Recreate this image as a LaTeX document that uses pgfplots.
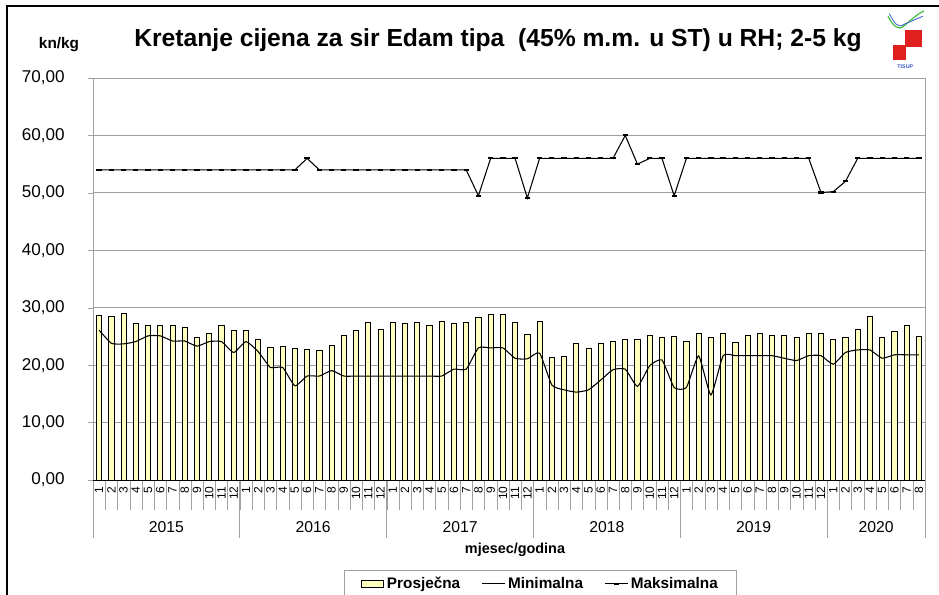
\documentclass[border=0pt]{standalone}
\usepackage{pgfplots}
\pgfplotsset{compat=1.18}
\usepackage{fontspec}
\setmainfont{Liberation Sans}
\definecolor{baryellow}{HTML}{FFFFC0}
\definecolor{gridgray}{HTML}{A0A0A0}
\definecolor{logored}{HTML}{E0201F}
\definecolor{logogreen}{HTML}{3DBE3D}
\definecolor{logoblue}{HTML}{3A5BC8}
\begin{document}
\begin{tikzpicture}
\useasboundingbox (0,0) rectangle (704.25pt,446.25pt);
\draw[line width=1.5pt] (5.25pt,-2pt) -- (5.25pt,441.75pt) -- (706pt,441.75pt);
\begin{axis}[
  at={(69.75pt,86.25pt)}, anchor=south west,
  width=624pt, height=301.5pt, scale only axis,
  xmin=-0.5, xmax=67.5, ymin=0, ymax=70,
  ytick={0,10,...,70},
  /pgf/number format/.cd, fixed, fixed zerofill, precision=2, use comma, assume math mode=true,
  /pgfplots/.cd,
  yticklabel style={font=\fontsize{12.8}{14}\selectfont, xshift=-14pt},
  xtick={0,...,67},
  xticklabels={1,2,3,4,5,6,7,8,9,10,11,12,1,2,3,4,5,6,7,8,9,10,11,12,1,2,3,4,5,6,7,8,9,10,11,12,1,2,3,4,5,6,7,8,9,10,11,12,1,2,3,4,5,6,7,8,9,10,11,12,1,2,3,4,5,6,7,8},
  minor xtick={-0.5,0.5,...,67.5},
  tick align=outside, tick pos=left,
  major tick length=3.75pt, minor tick length=22.5pt,
  major x tick style={draw=none},
  minor x tick style={gridgray},
  y tick style={gridgray},
  xticklabel style={rotate=90, anchor=east, font=\fontsize{9}{9}\selectfont, inner sep=1pt},
  ymajorgrids, grid style={gridgray, line width=0.6pt},
  axis line style={gridgray, line width=0.6pt},
  clip=false,
  legend style={at={(0.538,-0.224)}, anchor=north, legend columns=3, draw=gridgray,
    font=\bfseries\fontsize{11.5}{13}\selectfont, inner xsep=12pt, inner ysep=3pt,
    /tikz/every even column/.append style={column sep=14pt}},
  legend cell align=left,
]
\addplot[ybar, bar width=0.42, bar shift=0, fill=baryellow, draw=black, line width=0.6pt, area legend] coordinates {
(0,28.7)(1,28.45)(2,29.0)(3,27.2)(4,26.9)(5,26.9)(6,26.9)(7,26.65)(8,24.8)(9,25.5)(10,26.9)(11,26.1)
(12,26.1)(13,24.4)(14,23.05)(15,23.2)(16,22.9)(17,22.8)(18,22.65)(19,23.4)(20,25.1)(21,26.1)(22,27.4)(23,26.25)
(24,27.4)(25,27.2)(26,27.4)(27,27.0)(28,27.7)(29,27.3)(30,27.4)(31,28.3)(32,28.75)(33,28.85)(34,27.4)(35,25.4)
(36,27.6)(37,21.4)(38,21.5)(39,23.7)(40,23.0)(41,23.7)(42,24.15)(43,24.55)(44,24.4)(45,25.1)(46,24.9)(47,25.0)
(48,24.15)(49,25.5)(50,24.8)(51,25.55)(52,23.9)(53,25.1)(54,25.45)(55,25.1)(56,25.2)(57,24.8)(58,25.45)(59,25.6)
(60,24.45)(61,24.9)(62,26.25)(63,28.45)(64,24.8)(65,25.9)(66,26.95)(67,25.0)
};
\addlegendentry{Prosječna}
\addplot[black, line width=0.8pt, smooth, tension=0.3, no marks] coordinates {
(0,26.1)(1,23.8)(2,23.7)(3,24.1)(4,25.1)(5,25.1)(6,24.2)(7,24.2)(8,23.3)(9,24.1)(10,24.1)(11,22.2)
(12,24.1)(13,22.35)(14,19.6)(15,19.6)(16,16.4)(17,18.1)(18,18.1)(19,19.05)(20,18.1)(21,18.1)(22,18.1)(23,18.1)
(24,18.1)(25,18.1)(26,18.1)(27,18.1)(28,18.1)(29,19.3)(30,19.3)(31,23.0)(32,23.0)(33,23.0)(34,21.2)(35,21.1)
(36,22.1)(37,16.55)(38,15.7)(39,15.3)(40,15.7)(41,17.4)(42,19.2)(43,19.3)(44,16.3)(45,19.9)(46,20.9)(47,16.1)
(48,16.1)(49,21.6)(50,14.8)(51,21.65)(52,21.65)(53,21.65)(54,21.65)(55,21.65)(56,21.2)(57,20.8)(58,21.65)(59,21.65)
(60,20.15)(61,22.2)(62,22.65)(63,22.65)(64,21.2)(65,21.8)(66,21.8)(67,21.8)
};
\addlegendentry{Minimalna}
\addplot[black, line width=0.8pt, mark=-, mark size=2pt, mark options={line width=1.6pt}] coordinates {
(0,54)(1,54)(2,54)(3,54)(4,54)(5,54)(6,54)(7,54)(8,54)(9,54)(10,54)(11,54)
(12,54)(13,54)(14,54)(15,54)(16,54)(17,56)(18,54)(19,54)(20,54)(21,54)(22,54)(23,54)
(24,54)(25,54)(26,54)(27,54)(28,54)(29,54)(30,54)(31,49.5)(32,56)(33,56)(34,56)(35,49.1)
(36,56)(37,56)(38,56)(39,56)(40,56)(41,56)(42,56)(43,60)(44,55)(45,56)(46,56)(47,49.5)
(48,56)(49,56)(50,56)(51,56)(52,56)(53,56)(54,56)(55,56)(56,56)(57,56)(58,56)(59,50.05)
(60,50.2)(61,52.0)(62,56)(63,56)(64,56)(65,56)(66,56)(67,56)
};
\addlegendentry{Maksimalna}
\draw[gridgray, line width=0.6pt] (axis cs:-0.5,0) -- ([yshift=-43.5pt]axis cs:-0.5,0);
\draw[gridgray, line width=0.6pt] (axis cs:11.5,0) -- ([yshift=-43.5pt]axis cs:11.5,0);
\draw[gridgray, line width=0.6pt] (axis cs:23.5,0) -- ([yshift=-43.5pt]axis cs:23.5,0);
\draw[gridgray, line width=0.6pt] (axis cs:35.5,0) -- ([yshift=-43.5pt]axis cs:35.5,0);
\draw[gridgray, line width=0.6pt] (axis cs:47.5,0) -- ([yshift=-43.5pt]axis cs:47.5,0);
\draw[gridgray, line width=0.6pt] (axis cs:59.5,0) -- ([yshift=-43.5pt]axis cs:59.5,0);
\draw[gridgray, line width=0.6pt] (axis cs:67.5,0) -- ([yshift=-43.5pt]axis cs:67.5,0);
\draw[black, line width=0.6pt] (axis cs:-0.5,0) -- (axis cs:67.5,0);
\node[font=\fontsize{11.8}{13}\selectfont] at ([yshift=-35.25pt]axis cs:5.5,0) {2015};
\node[font=\fontsize{11.8}{13}\selectfont] at ([yshift=-35.25pt]axis cs:17.5,0) {2016};
\node[font=\fontsize{11.8}{13}\selectfont] at ([yshift=-35.25pt]axis cs:29.5,0) {2017};
\node[font=\fontsize{11.8}{13}\selectfont] at ([yshift=-35.25pt]axis cs:41.5,0) {2018};
\node[font=\fontsize{11.8}{13}\selectfont] at ([yshift=-35.25pt]axis cs:53.5,0) {2019};
\node[font=\fontsize{11.8}{13}\selectfont] at ([yshift=-35.25pt]axis cs:63.5,0) {2020};
\end{axis}
\node[font=\bfseries\fontsize{18.5}{20}\selectfont] at (373.5pt,416.25pt) {Kretanje cijena za sir Edam tipa\ \ (45\% m.m. u ST) u RH; 2-5 kg};
\node[font=\bfseries\fontsize{11.5}{13}\selectfont] at (44.25pt,412.5pt) {kn/kg};
\node[font=\bfseries\fontsize{10.8}{12}\selectfont] at (386.25pt,33.75pt) {mjesec/godina};
% logo
\draw[logogreen, line width=0.9pt] (666pt,434pt) .. controls (670pt,426pt) and (674pt,424pt) .. (677pt,426pt) .. controls (682pt,430pt) and (688pt,436pt) .. (693pt,438pt);
\draw[logoblue, line width=0.6pt] (667pt,436pt) .. controls (671pt,428pt) and (674pt,425pt) .. (678pt,428pt) -- (692pt,434pt);
\fill[logored] (678.75pt,411pt) rectangle (691.5pt,423.75pt);
\fill[logored] (669.75pt,401.25pt) rectangle (679.5pt,412.5pt);
\node[logoblue, font=\fontsize{4}{4}\selectfont\bfseries, inner sep=0pt] at (679pt,396pt) {TISUP};
\end{tikzpicture}
\end{document}
